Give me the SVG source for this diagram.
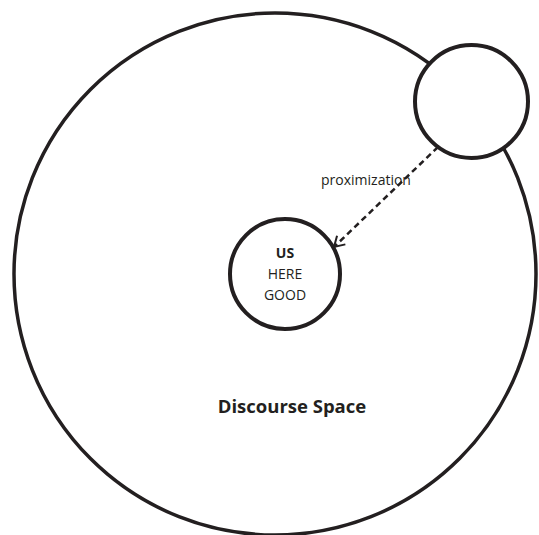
<svg xmlns="http://www.w3.org/2000/svg" width="539" height="535" viewBox="0 0 539 535">
<style>
.c{fill:none;stroke:#231f20;stroke-width:3.5}
.s{stroke-width:4}
.t{font-family:"Open Sans","Noto Sans",sans-serif;fill:#231f20;text-anchor:middle}
</style>
<defs>
<marker id="ah" markerWidth="14" markerHeight="14" refX="11" refY="7" orient="auto" markerUnits="userSpaceOnUse">
<path d="M1,1 L11,7 L1,13" fill="none" stroke="#231f20" stroke-width="2"/>
</marker>
</defs>
<rect width="539" height="535" fill="#fff"/>
<g id="discourse-space">
<circle class="c" cx="275" cy="274" r="261"/>
<text class="t" x="292" y="413" font-size="18.5" font-weight="bold">Discourse Space</text>
</g>
<g id="other">
<circle class="c s" cx="471.5" cy="101.5" r="56.5" style="fill:#fff"/>
</g>
<g id="us">
<circle class="c s" cx="285" cy="274" r="55"/>
<text class="t" x="285" y="258" font-size="14" font-weight="bold">US</text>
<text class="t" x="285" y="279" font-size="14">HERE</text>
<text class="t" x="285" y="300" font-size="14">GOOD</text>
</g>
<g id="connectors">
<line x1="438" y1="147" x2="334" y2="247" stroke="#231f20" stroke-width="2.5" stroke-dasharray="6,4" marker-end="url(#ah)"/>
<text class="t" x="366" y="185" font-size="14">proximization</text>
</g>
</svg>
